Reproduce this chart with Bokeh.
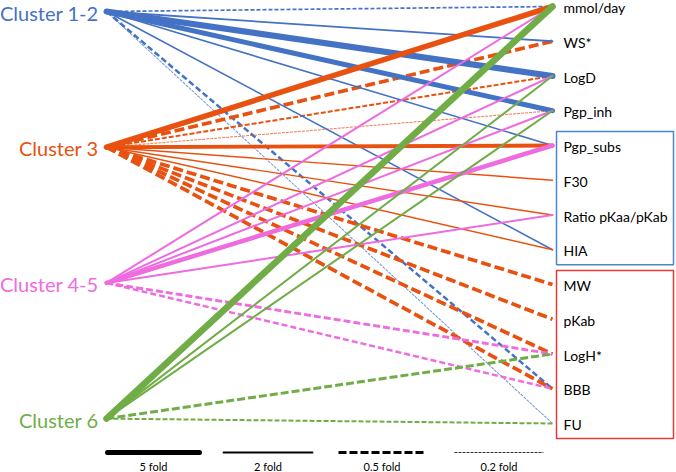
from bokeh.plotting import figure
from bokeh.models import Range1d
from bokeh.core.properties import value
from bokeh.embed import file_html
from bokeh.resources import INLINE

# Clusters (left column) and descriptors (right column)
clusters = ["Cluster 1-2", "Cluster 3", "Cluster 4-5", "Cluster 6"]
cluster_colors = ["#4472C4", "#E8510F", "#EE6BE0", "#70AD47"]
descriptors = ["mmol/day", "WS*", "LogD", "Pgp_inh", "Pgp_subs", "F30",
               "Ratio pKaa/pKab", "HIA", "MW", "pKab", "LogH*", "BBB", "FU"]

# Fold change of each descriptor per cluster
fold_c12 = {"mmol/day": 0.3, "WS*": 2, "LogD": 6, "Pgp_inh": 5, "Pgp_subs": 1.8,
            "HIA": 1.8, "BBB": 0.42, "FU": 0.2}
fold_c3 = {"mmol/day": 5.5, "WS*": 0.6, "LogD": 0.35, "Pgp_inh": 0.2, "Pgp_subs": 4,
           "F30": 1.7, "Ratio pKaa/pKab": 1.7, "HIA": 1.7, "MW": 0.6, "pKab": 0.6,
           "LogH*": 0.6, "BBB": 0.6}
fold_c45 = {"mmol/day": 2.2, "LogD": 2.2, "Pgp_inh": 2.2, "Pgp_subs": 4.5,
            "Ratio pKaa/pKab": 2.2, "LogH*": 0.48, "BBB": 0.42}
fold_c6 = {"mmol/day": 6.5, "LogD": 2.2, "Pgp_inh": 2.2, "LogH*": 0.5, "FU": 0.35}
folds = [fold_c12, fold_c3, fold_c45, fold_c6]

legend_folds = [5, 2, 0.5, 0.2]
legend_labels = ["5 fold", "2 fold", "0.5 fold", "0.2 fold"]

# Groups of descriptors framed by boxes
blue_group = ["Pgp_subs", "F30", "Ratio pKaa/pKab", "HIA"]
red_group = ["MW", "pKab", "LogH*", "BBB", "FU"]


def style(fold):
    """Line width and dash for a fold change: up = solid, down = dashed."""
    if fold >= 1:
        return fold * 1.07 - 0.35, "solid"
    w = 6.67 * fold - 0.33
    dash = max(2, round(2.6 * w))
    gap = max(1, round(1.1 * w))
    return w, f"{dash} {gap}"


W, H = 676, 472
p = figure(width=W, height=H, x_range=Range1d(0, W), y_range=Range1d(H, 0),
           toolbar_location=None, output_backend="svg", min_border=0,
           x_axis_location=None, y_axis_location=None)
p.grid.visible = False
p.outline_line_color = None
p.background_fill_color = "white"

FONT = value("Lato")
x_left, x_right = 106, 552
left_y = {c: 11 + i * 135.7 for i, c in enumerate(clusters)}
right_y = {d: 6 + i * 34.75 for i, d in enumerate(descriptors)}


def box(group, color):
    ys = [right_y[d] for d in group]
    p.quad(left=556, right=673, top=min(ys) - 14, bottom=max(ys) + 15,
           fill_color=None, line_color=color, line_width=1.5)


box(blue_group, "#4A86C8")
box(red_group, "#E53935")

# Connections: dashed ones first so that solid lines sit on top
for pass_solid in (False, True):
    for c, col, fd in zip(clusters, cluster_colors, folds):
        for d, f in fd.items():
            w, dash = style(f)
            if (dash == "solid") != pass_solid:
                continue
            alpha = 0.75 if f <= 0.2 else 1.0
            p.segment(x0=[x_left], y0=[left_y[c]], x1=[x_right], y1=[right_y[d]],
                      line_color=col, line_width=w, line_dash=dash,
                      line_cap="round" if dash == "solid" else "butt",
                      line_alpha=alpha)

# Cluster labels
p.text(x=[98] * len(clusters), y=[left_y[c] + 1 for c in clusters], text=clusters,
       text_color=cluster_colors, text_font=FONT, text_font_size="20px",
       text_align="right", text_baseline="middle")

# Descriptor labels
p.text(x=[563] * len(descriptors), y=[right_y[d] + 1 for d in descriptors],
       text=descriptors, text_color="black", text_font=FONT,
       text_font_size="14px", text_align="left", text_baseline="middle")

# Legend of line styles
leg_x0 = [107, 223, 338, 454]
leg_x1 = [199, 312, 425, 543]
for x0, x1, f, lab in zip(leg_x0, leg_x1, legend_folds, legend_labels):
    w, dash = style(f)
    p.segment(x0=[x0], y0=[452], x1=[x1], y1=[452], line_color="black",
              line_width=w, line_dash=dash,
              line_cap="round" if dash == "solid" else "butt",
              line_alpha=0.8 if f <= 0.2 else 1.0)
    p.text(x=[(x0 + x1) / 2], y=[466], text=[lab], text_color="black",
           text_font=FONT, text_font_size="11px", text_align="center",
           text_baseline="middle")

open("out.html", "w").write(file_html(p, INLINE))
